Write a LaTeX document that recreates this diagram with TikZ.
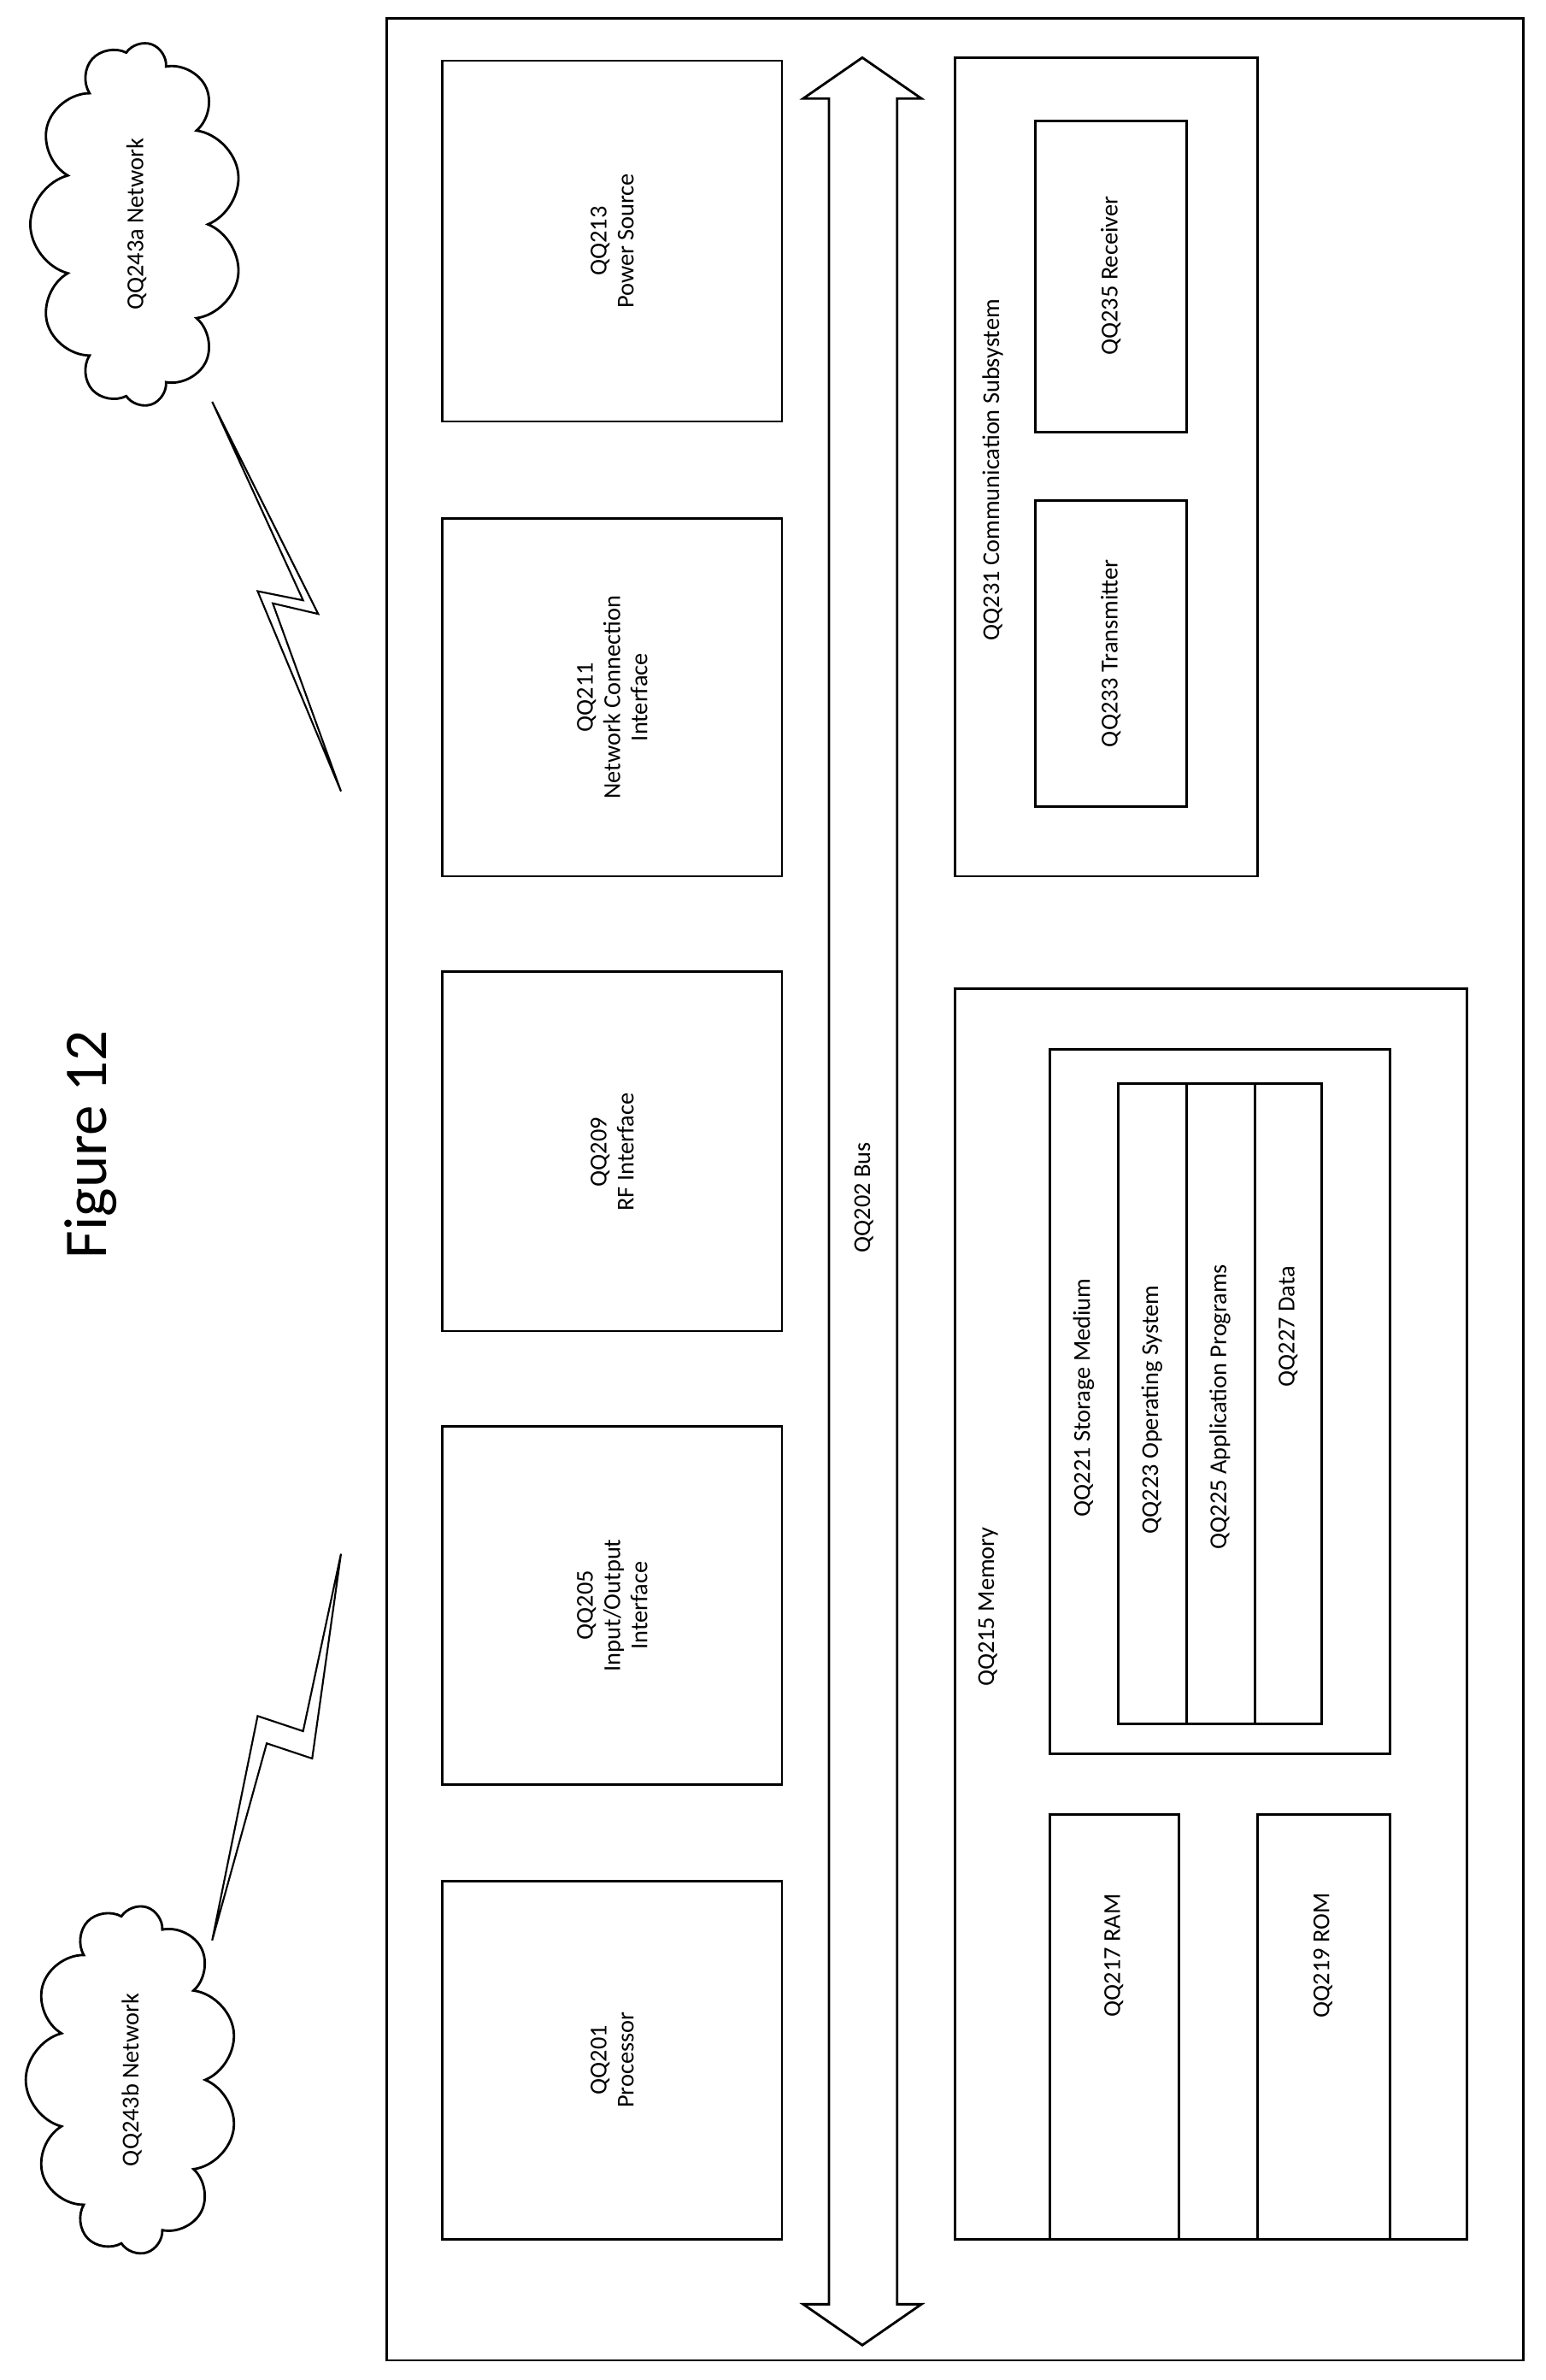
\documentclass[tikz,border=0pt]{standalone}
\usepackage{fontspec}
\setmainfont{Carlito}
\usetikzlibrary{shapes.symbols,arrows.meta}
\begin{document}
\begin{tikzpicture}[x=1pt,y=-1pt,line width=1.6pt,
  box/.style={draw,rectangle,anchor=north west,inner sep=0pt},
  lbl/.style={rotate=90,align=center,font=\fontsize{16}{18}\selectfont}]
  \useasboundingbox (0,0) rectangle (1020,1570);
%%
  % Outer device
  \draw (255,12) rectangle (1005,1557);
  % Left column
  \draw (292,40) rectangle (516,278);
  \node[lbl] (pwr) at (404,159) {QQ213\\Power Source};
  \draw (292,342) rectangle (516,578);
  \node[lbl] (nci) at (404,460) {QQ211\\Network Connection\\Interface};
  \draw (292,641) rectangle (516,878);
  \node[lbl] (rfi) at (404,760) {QQ209\\RF Interface};
  \draw (292,941) rectangle (516,1177);
  \node[lbl] (io) at (404,1059) {QQ205\\Input/Output\\Interface};
  \draw (292,1241) rectangle (516,1477);
  \node[lbl] (cpu) at (404,1359) {QQ201\\Processor};
  % Bus
  \draw (547,65) -- (530,65) -- (569,38) -- (608,65) -- (592,65) -- (592,1520)
    -- (608,1520) -- (569,1547) -- (530,1520) -- (547,1520) -- cycle;
  \node[lbl] (bus) at (570,790) {QQ202 Bus};
  % Communication subsystem
  \draw (630,38) rectangle (830,578);
  \node[lbl] (comm) at (655,310) {QQ231 Communication Subsystem};
  \draw (683,80) rectangle (783,285);
  \node[lbl] (rx) at (733,182) {QQ235 Receiver};
  \draw (683,330) rectangle (783,532);
  \node[lbl] (tx) at (733,431) {QQ233 Transmitter};
  % Memory
  \draw (630,652) rectangle (968,1477);
  \node[lbl] (mem) at (652,1060) {QQ215 Memory};
  \draw (693,692) rectangle (917,1157);
  \node[lbl] (stor) at (715,922) {QQ221 Storage Medium};
  \draw (738,715) rectangle (872,1137);
  \draw (783,715) -- (783,1137);
  \draw (828,715) -- (828,1137);
  \node[lbl] (os) at (760,930) {QQ223 Operating System};
  \node[lbl] (app) at (805,928) {QQ225 Application Programs};
  \node[lbl] (dat) at (850,875) {QQ227 Data};
  \draw (693,1197) rectangle (778,1477);
  \node[lbl] (ram) at (735,1290) {QQ217 RAM};
  \draw (830,1197) rectangle (917,1477);
  \node[lbl] (rom) at (873,1290) {QQ219 ROM};
  % Title
  \node[rotate=90,font=\fontsize{40}{44}\selectfont] (title) at (60,755) {Figure 12};
  % Networks
  \node[draw,cloud,cloud puffs=11,cloud ignores aspect,rotate=90,minimum width=240pt,
    minimum height=140pt,font=\fontsize{16}{18}\selectfont] (neta) at (90,148) {QQ243a Network};
  \node[draw,cloud,cloud puffs=11,cloud ignores aspect,rotate=90,minimum width=230pt,
    minimum height=140pt,font=\fontsize{16}{18}\selectfont] (netb) at (87,1372) {QQ243b Network};
  % Wireless links
  \draw[line width=1.2pt] (140,265) -- (210,405) -- (180,398) -- (225,522)
    -- (170,390) -- (200,396) -- cycle;
  \draw[line width=1.2pt] (225,1025) -- (200,1142) -- (170,1132) -- (140,1280)
    -- (176,1150) -- (206,1160) -- cycle;
\end{tikzpicture}
\end{document}
